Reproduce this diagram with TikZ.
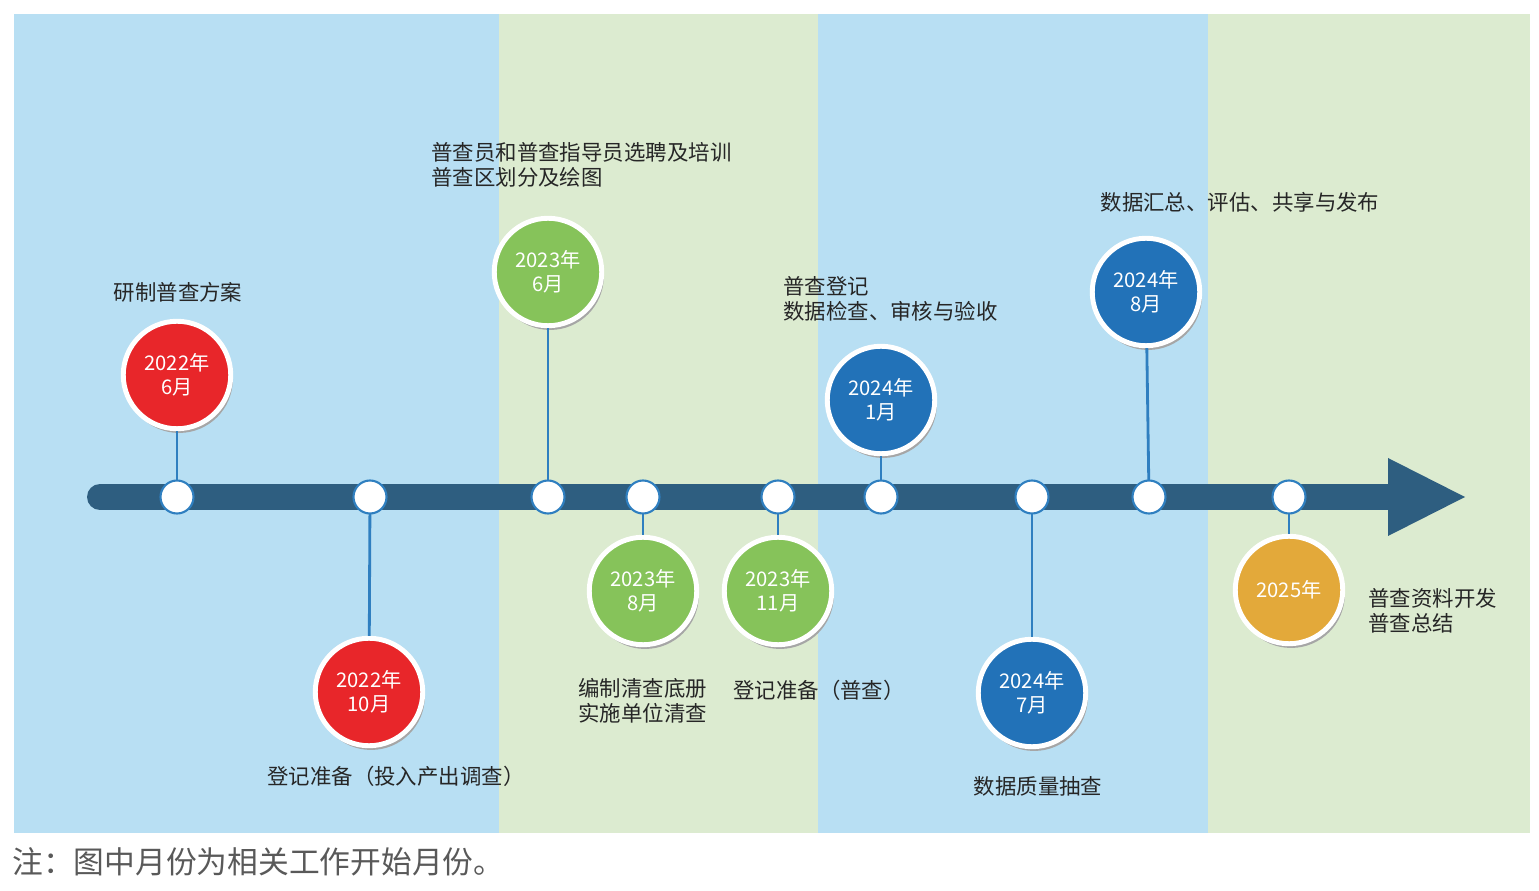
\documentclass[tikz,border=0pt]{standalone}
\usepackage{fontspec}
\setmainfont{Noto Sans CJK SC}
\usetikzlibrary{positioning}
\definecolor{bandblue}{HTML}{B8DFF3}
\definecolor{bandgreen}{HTML}{DCEBD0}
\definecolor{barcol}{HTML}{2E5E80}
\definecolor{linkcol}{HTML}{2F7FC0}
\definecolor{redc}{HTML}{E8262A}
\definecolor{greenc}{HTML}{86C35A}
\definecolor{bluec}{HTML}{2272B8}
\definecolor{orangec}{HTML}{E3A93A}
\tikzset{
  dot/.style={circle, fill=white, draw=linkcol, line width=1.2pt, minimum size=0.66cm, inner sep=0pt},
  stage/.style={circle, fill=#1, draw=white, line width=2.8pt, minimum size=2.15cm, inner sep=0pt,
      text=white, font=\fontsize{11.5}{13.5}\selectfont, align=center,
      preaction={fill=black!35, transform canvas={xshift=1.2pt, yshift=-2.4pt}}},
  link/.style={linkcol, line width=1.6pt},
  task/.style={font=\fontsize{12.2}{14.5}\selectfont, text=black!85, align=left, inner sep=0pt},
}
\begin{document}
\begin{tikzpicture}[x=0.02cm, y=-0.02cm]
    \useasboundingbox (0,0) rectangle (1539,891);
    % bands
    \fill [bandblue] (14,14) rectangle (499,833);
    \fill [bandgreen] (499,14) rectangle (818,833);
    \fill [bandblue] (818,14) rectangle (1208,833);
    \fill [bandgreen] (1208,14) rectangle (1530,833);

    % time axis
    \draw [barcol, line width=0.52cm, line cap=round] (100,497) -- (1392,497);
    \fill [barcol] (1388,458) -- (1465,497) -- (1388,536) -- cycle;

    % stages
    \node [stage=redc] (s1) at (177,375) {2022年\\6月};
    \node [stage=redc] (s2) at (369,692) {2022年\\10月};
    \node [stage=greenc] (s3) at (548,272) {2023年\\6月};
    \node [stage=greenc] (s4) at (643,591) {2023年\\8月};
    \node [stage=greenc] (s5) at (778,591) {2023年\\11月};
    \node [stage=bluec] (s6) at (881,400) {2024年\\1月};
    \node [stage=bluec] (s7) at (1032,693) {2024年\\7月};
    \node [stage=bluec] (s8) at (1146,292) {2024年\\8月};
    \node [stage=orangec] (s9) at (1289,590) {2025年};

    \foreach \i/\x in {1/177, 2/370, 3/548, 4/643, 5/778, 6/881, 7/1032, 8/1149, 9/1289}{
        \draw [link] (s\i) -- (\x,497);
        \node [dot] (d\i) at (\x,497) {};
      }

    % tasks
    \node [task] (t1) at (178,292) {研制普查方案};
    \node [task, anchor=west] (t2) at (267,776) {登记准备（投入产出调查）};
    \node [task, anchor=north west] (t3) at (431,142) {普查员和普查指导员选聘及培训\\普查区划分及绘图};
    \node [task, anchor=north west] (t4) at (578,678) {编制清查底册\\实施单位清查};
    \node [task, anchor=west] (t5) at (733,690) {登记准备（普查）};
    \node [task, anchor=north west] (t6) at (783,276) {普查登记\\数据检查、审核与验收};
    \node [task] (t7) at (1038,786) {数据质量抽查};
    \node [task] (t8) at (1240,202) {数据汇总、评估、共享与发布};
    \node [task, anchor=north west] (t9) at (1368,588) {普查资料开发\\普查总结};

    \node [anchor=west, inner sep=0pt, text=black!65, font=\fontsize{17.5}{20}\selectfont] (note) at (12,862)
      {注：图中月份为相关工作开始月份。};
  \end{tikzpicture}
\end{document}
